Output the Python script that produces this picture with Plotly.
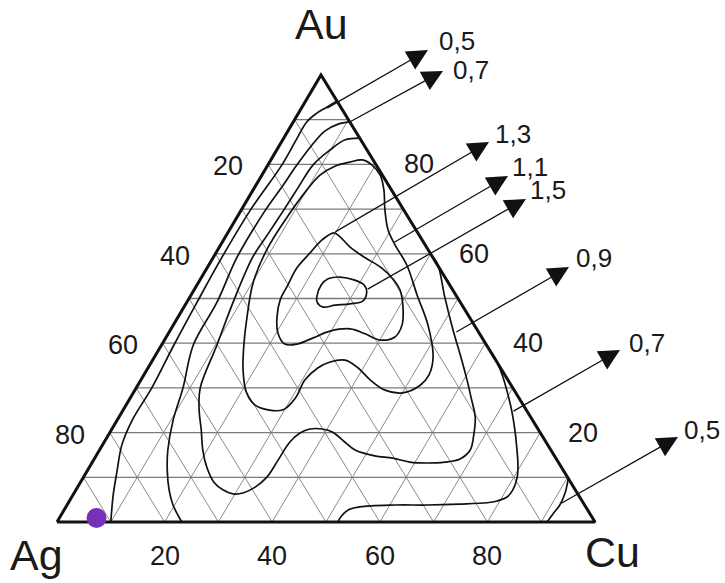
import plotly.graph_objects as go

# ---------------- data: compositions in %, given as Cu and Au (Ag = 100 - Cu - Au) ----------------
TICKS = [20, 40, 60, 80]
GRID_STEPS = list(range(10, 100, 10))
VERTEX_NAMES = ["Ag", "Au", "Cu"]

C05_LEFT_CU = [5.8, 4.6, 3.3, 2.5, 2.5, 2.6, 1.7, 1.6, 1.9, 2.3, 2.9, 2.8, 3.6, 5.5, 7.5, 10.0]
C05_LEFT_AU = [94.2, 92.8, 91.3, 89.5, 85.5, 79.9, 69.6, 59.3, 49.2, 39.6, 30.0, 22.8, 17.2, 11.6, 6.0, 0.0]

C07_LEFT_CU = [10.5, 8.6, 6.9, 6.0, 5.4, 5.0, 4.5, 4.4, 5.6, 5.9, 8.7, 10.4, 12.7, 14.8, 17.3, 19.7, 23.2]
C07_LEFT_AU = [89.5, 89.0, 87.5, 84.3, 79.9, 74.7, 69.6, 59.3, 49.2, 39.6, 30.0, 22.8, 16.1, 11.6, 7.2, 3.8, 0.0]

C09_CU = [14.0, 11.6, 9.9, 8.4, 8.1, 7.9, 7.6, 7.3, 8.6, 10.3, 11.9, 14.1, 16.7, 19.2, 21.8, 24.8,
          27.3, 29.6, 31.4, 33.0, 34.1, 34.3, 34.5, 35.4, 36.8, 39.1, 41.4, 44.7, 47.5, 51.8, 55.4,
          59.0, 62.3, 65.5, 68.0, 68.9, 67.9, 66.2, 63.4, 60.6, 56.6, 52.5, 47.4, 42.6, 40.8]
C09_AU = [85.9, 85.5, 83.2, 79.9, 74.7, 69.6, 64.4, 59.3, 49.2, 39.6, 30.0, 25.1, 20.6, 16.1, 12.3, 8.9,
          7.2, 6.3, 6.5, 7.8, 10.1, 13.9, 17.9, 19.9, 20.8, 20.8, 20.1, 17.9, 16.1, 14.8, 14.3,
          13.4, 13.2, 13.4, 14.1, 16.1, 19.5, 23.5, 27.7, 31.8, 37.4, 43.0, 50.3, 57.5, 59.3]

C11_CU = [14.9, 17.0, 19.3, 22.0, 24.3, 26.7, 29.5, 32.4, 36.8, 42.0, 47.3, 51.8, 53.0, 52.5, 50.1,
          46.5, 42.6, 39.0, 35.8, 33.2, 31.6, 30.5, 30.7, 29.7, 26.9, 23.9, 20.9, 17.9, 15.3, 12.8,
          10.2, 9.1, 9.3, 10.0, 10.8, 12.6, 14.9]
C11_AU = [80.5, 81.0, 79.9, 77.6, 74.3, 69.8, 65.3, 62.0, 57.5, 50.8, 44.1, 36.9, 32.9, 30.6, 28.9,
          29.5, 31.8, 34.5, 36.2, 35.8, 34.5, 31.8, 27.7, 25.1, 25.1, 26.2, 29.1, 34.0, 39.6, 45.9,
          53.5, 60.9, 68.2, 74.3, 77.6, 79.6, 80.5]

C13_CU = [19.7, 18.3, 17.5, 16.7, 16.9, 17.1, 18.5, 20.3, 22.8, 25.1, 27.4, 29.8, 33.3, 36.6, 40.1,
          42.5, 42.5, 40.7, 38.3, 36.1, 32.5, 28.3, 24.3, 21.3, 19.7]
C13_AU = [64.7, 63.1, 60.2, 56.8, 53.0, 49.7, 45.6, 42.3, 39.8, 39.8, 41.2, 42.7, 43.2, 42.1, 40.7,
          41.4, 44.1, 48.1, 51.9, 54.1, 56.8, 59.1, 61.5, 63.8, 64.7]

C15_CU = [23.6, 23.1, 23.7, 25.7, 28.8, 31.1, 32.3, 32.6, 30.5, 27.9, 25.8, 24.2, 23.6]
C15_AU = [50.3, 53.0, 54.4, 54.8, 54.1, 53.0, 51.5, 49.4, 48.8, 48.5, 48.1, 49.2, 50.3]

C07_RIGHT_CU = [61.6, 64.2, 67.0, 69.9, 72.5, 75.0, 77.2, 79.4, 80.7, 81.2, 80.9, 79.5, 77.8, 72.9,
                66.9, 61.0, 54.6, 52.8, 52.2, 52.2]
C07_RIGHT_AU = [38.5, 35.8, 32.4, 28.4, 24.6, 20.6, 16.8, 12.8, 9.8, 7.2, 5.6, 4.7, 4.3, 4.0,
                3.8, 3.8, 3.4, 2.7, 1.3, 0.0]

C05_RIGHT_CU = [90.3, 90.8, 91.3, 91.6, 91.3, 91.1]
C05_RIGHT_AU = [9.6, 8.1, 6.3, 3.8, 1.8, 0.0]

ARROW_LABELS = ["0,5", "0,7", "1,3", "1,1", "1,5", "0,9", "0,7", "0,5"]
ARROW_TAIL_CU = [4.6, 10.3, 19.7, 31.8, 32.0, 53.2, 72.5, 91.5]
ARROW_TAIL_AU = [92.4, 89.3, 64.7, 62.4, 51.9, 42.3, 24.6, 4.0]

SAMPLE_CU = [6.9]
SAMPLE_AU = [0.9]

# ---------------- geometry / layout (pixel-space axis) ----------------
W, H = 725, 583
V_AG, V_AU, V_CU = (57.0, 522.0), (321.0, 75.0), (595.0, 522.0)

# arrow tip positions and label centres (pixels on the axis)
ARROW_TIP = [(428, 50), (443, 71), (489, 142), (508, 176), (526, 199), (569, 267), (620, 350), (678, 437)]
LABEL_POS = [(457, 41), (471, 70), (513, 134), (530, 167), (548, 190), (594, 258), (647, 343), (702, 430)]


def tern(cu, au):
    ag = 100.0 - cu - au
    x = (ag * V_AG[0] + au * V_AU[0] + cu * V_CU[0]) / 100.0
    y = (ag * V_AG[1] + au * V_AU[1] + cu * V_CU[1]) / 100.0
    return x, y


def tern_list(cus, aus):
    pts = [tern(c, a) for c, a in zip(cus, aus)]
    return [p[0] for p in pts], [p[1] for p in pts]


fig = go.Figure()

# grid
gx_h, gy_h, gx_d, gy_d = [], [], [], []
for k in GRID_STEPS:
    for (c, a) in [(0, k), (100 - k, k)]:          # constant Au (horizontal)
        x, y = tern(c, a); gx_h.append(x); gy_h.append(y)
    gx_h.append(None); gy_h.append(None)
    for (c, a) in [(k, 0), (k, 100 - k)]:          # constant Cu
        x, y = tern(c, a); gx_d.append(x); gy_d.append(y)
    gx_d.append(None); gy_d.append(None)
    for (c, a) in [(0, 100 - k), (100 - k, 0)]:    # constant Ag
        x, y = tern(c, a); gx_d.append(x); gy_d.append(y)
    gx_d.append(None); gy_d.append(None)

fig.add_trace(go.Scatter(x=gx_d, y=gy_d, mode="lines", line=dict(color="#8a8a8a", width=1),
                         hoverinfo="skip", showlegend=False))
fig.add_trace(go.Scatter(x=gx_h, y=gy_h, mode="lines", line=dict(color="#7a7a7a", width=1.3),
                         hoverinfo="skip", showlegend=False))

# contours
for cus, aus in [(C05_LEFT_CU, C05_LEFT_AU), (C07_LEFT_CU, C07_LEFT_AU), (C09_CU, C09_AU),
                 (C11_CU, C11_AU), (C13_CU, C13_AU), (C15_CU, C15_AU),
                 (C07_RIGHT_CU, C07_RIGHT_AU), (C05_RIGHT_CU, C05_RIGHT_AU)]:
    xs, ys = tern_list(cus, aus)
    fig.add_trace(go.Scatter(x=xs, y=ys, mode="lines",
                             line=dict(color="#111111", width=1.7, shape="spline", smoothing=1.0),
                             hoverinfo="skip", showlegend=False))

# triangle frame
tx, ty = tern_list([0, 0, 100, 0], [0, 100, 0, 0])
fig.add_trace(go.Scatter(x=tx, y=ty, mode="lines", line=dict(color="#111111", width=3),
                         hoverinfo="skip", showlegend=False))

# sample point
sx, sy = tern_list(SAMPLE_CU, SAMPLE_AU)
fig.add_trace(go.Scatter(x=sx, y=sy, mode="markers",
                         marker=dict(size=20, color="#7532B8", line=dict(width=0)),
                         hoverinfo="skip", showlegend=False))

annotations = []
FONT = "Liberation Sans, Arial, sans-serif"
TXT = "#1a1a1a"

# arrows and level labels
for lab, cu, au, tip, lp in zip(ARROW_LABELS, ARROW_TAIL_CU, ARROW_TAIL_AU, ARROW_TIP, LABEL_POS):
    tx0, ty0 = tern(cu, au)
    annotations.append(dict(x=tip[0], y=tip[1], ax=tx0, ay=ty0, xref="x", yref="y", axref="x", ayref="y",
                            text="", showarrow=True, arrowhead=2, arrowsize=3.2, arrowwidth=1.3,
                            arrowcolor="#111111", standoff=0, startstandoff=0))
    annotations.append(dict(x=lp[0], y=lp[1], xref="x", yref="y", text=lab, showarrow=False,
                            font=dict(family=FONT, size=26, color=TXT), xanchor="center", yanchor="middle"))

# tick labels
for v in TICKS:
    x, y = tern(0, 100 - v)          # left edge (Ag = v)
    annotations.append(dict(x=x - 40, y=y + 2, xref="x", yref="y", text=str(v), showarrow=False,
                            font=dict(family=FONT, size=27, color=TXT), xanchor="center", yanchor="middle"))
    x, y = tern(100 - v, v)          # right edge (Au = v)
    annotations.append(dict(x=x + 43, y=y, xref="x", yref="y", text=str(v), showarrow=False,
                            font=dict(family=FONT, size=27, color=TXT), xanchor="center", yanchor="middle"))
    x, y = tern(v, 0)                # bottom edge (Cu = v)
    annotations.append(dict(x=x, y=y + 34, xref="x", yref="y", text=str(v), showarrow=False,
                            font=dict(family=FONT, size=27, color=TXT), xanchor="center", yanchor="middle"))

# vertex labels
VERTEX_LABEL_POS = [(36, 555), (321, 24), (612, 552)]
for name, p in zip(VERTEX_NAMES, VERTEX_LABEL_POS):
    annotations.append(dict(x=p[0], y=p[1], xref="x", yref="y", text=name, showarrow=False,
                            font=dict(family=FONT, size=43, color=TXT), xanchor="center", yanchor="middle"))

fig.update_layout(
    width=W, height=H, margin=dict(l=0, r=0, t=0, b=0),
    paper_bgcolor="white", plot_bgcolor="white",
    xaxis=dict(range=[0, W], visible=False, fixedrange=True),
    yaxis=dict(range=[H, 0], visible=False, fixedrange=True),
    annotations=annotations, showlegend=False,
)

fig.write_html("out.html", config={"displayModeBar": False},
               post_script="document.body.style.margin='0';document.body.style.overflow='hidden';")
